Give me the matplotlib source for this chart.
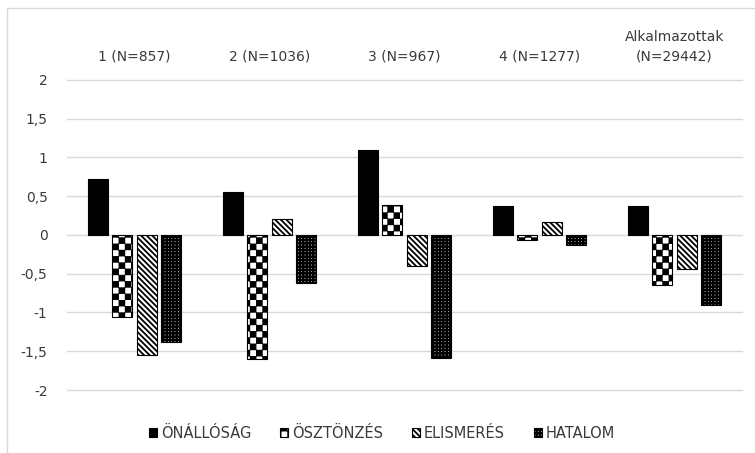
import warnings
import numpy as np
import matplotlib
matplotlib.use("Agg")
import matplotlib.pyplot as plt
import matplotlib.hatch as mhatch
from matplotlib.path import Path
from matplotlib.patches import Rectangle

warnings.filterwarnings("ignore")

groups = ["1 (N=857)", "2 (N=1036)", "3 (N=967)", "4 (N=1277)", "Alkalmazottak\n(N=29442)"]
series = ["ÖNÁLLÓSÁG", "ÖSZTÖNZÉS", "ELISMERÉS", "HATALOM"]
onallosag = [0.72, 0.55, 1.10, 0.37, 0.37]
osztonzes = [-1.06, -1.60, 0.39, -0.07, -0.64]
elismeres = [-1.55, 0.20, -0.40, 0.17, -0.44]
hatalom = [-1.38, -0.62, -1.59, -0.13, -0.90]
yticks = [-2, -1.5, -1, -0.5, 0, 0.5, 1, 1.5, 2]


class SquareHatch(mhatch.HatchPatternBase):
    # 'c' -> checkerboard, 'd' -> black field with small white holes
    def __init__(self, hatch, density):
        self.squares = []
        if 'c' in hatch:
            n = 16
            sh = 0.007  # compensate the hatch stroke
            for i in range(n):
                for j in range(n):
                    if (i + j) % 2 == 0:
                        self.squares.append((i / n + sh, j / n + sh, 1 / n - 2 * sh, 1))
        elif 'd' in hatch:
            n = 30
            h = 0.027
            self.squares.append((0, 0, 1, 1))
            for i in range(n):
                for j in range(n):
                    x = i / n + (1 / n - h) / 2
                    y = j / n + (1 / n - h) / 2
                    self.squares.append((x, y, h, -1))
        self.num_vertices = 5 * len(self.squares)

    def set_vertices_and_codes(self, vertices, codes):
        for k, (x, y, s, d) in enumerate(self.squares):
            if d > 0:
                pts = [(x, y), (x + s, y), (x + s, y + s), (x, y + s), (x, y)]
            else:
                pts = [(x, y), (x, y + s), (x + s, y + s), (x + s, y), (x, y)]
            vertices[5 * k:5 * k + 5] = pts
            codes[5 * k:5 * k + 5] = [Path.MOVETO, Path.LINETO, Path.LINETO,
                                      Path.LINETO, Path.CLOSEPOLY]


mhatch._hatch_types.append(SquareHatch)

plt.rcParams['font.family'] = ['DejaVu Sans']
plt.rcParams['hatch.linewidth'] = 1.3

txt = '#3a3a3a'
fig = plt.figure(figsize=(7.55, 4.53), dpi=100)
ax = fig.add_axes([67 / 755, 1 - 390 / 453, 675 / 755, 310 / 453])

# chart frame (cut off at right and bottom like the screenshot)
fig.patches.append(Rectangle((7 / 755, -0.1), 1.2, 1 - 8 / 453 + 0.1,
                             transform=fig.transFigure, facecolor='none',
                             edgecolor='#d9d9d9', linewidth=1))

x = np.arange(len(groups))
w = 0.148
step = 0.182
styles = [dict(color='black', edgecolor='black'),
          dict(color='white', edgecolor='black', hatch='c'),
          dict(color='white', edgecolor='black', hatch='\\' * 6),
          dict(color='white', edgecolor='black', hatch='d')]
for k, (vals, name) in enumerate(zip([onallosag, osztonzes, elismeres, hatalom], series)):
    ax.bar(x + (k - 1.5) * step, vals, w, label=name, linewidth=0.8, zorder=3, **styles[k])

ax.set_xlim(-0.5, len(groups) - 0.5)
ax.set_ylim(-2, 2)
ax.set_yticks(yticks)
ax.set_yticklabels([('%g' % v).replace('.', ',') for v in yticks])
ax.xaxis.tick_top()
ax.set_xticks(x)
ax.set_xticklabels(groups, linespacing=1.5)
ax.tick_params(length=0, labelsize=10, labelcolor=txt)
ax.tick_params(axis='x', pad=12)
ax.tick_params(axis='y', pad=14)
ax.yaxis.grid(True, color='#d9d9d9', linewidth=1)
for gl in ax.get_ygridlines():
    gl.set_clip_on(False)
ax.set_axisbelow(True)
for s in ax.spines.values():
    s.set_visible(False)

fig.legend(loc='center', bbox_to_anchor=(382 / 755, 1 - 433 / 453), ncol=4,
           frameon=False, fontsize=10.5, labelcolor=txt, handlelength=0.55,
           handleheight=0.55, handletextpad=0.25, columnspacing=2.0)

fig.savefig('out.png', dpi=100)
